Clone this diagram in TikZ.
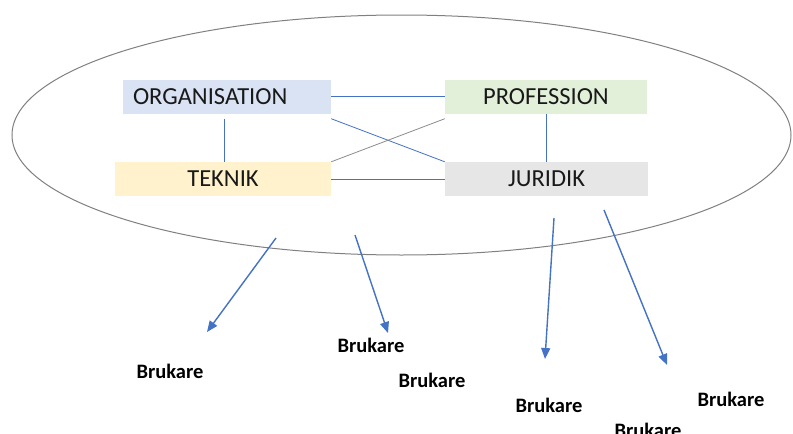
\documentclass[tikz,border=0pt]{standalone}
\usepackage{fontspec}
\setmainfont{Carlito}
\usetikzlibrary{arrows.meta}
\definecolor{lblue}{HTML}{DAE3F3}
\definecolor{lyellow}{HTML}{FFF2CC}
\definecolor{lgreen}{HTML}{E2F0D9}
\definecolor{lgray}{HTML}{E7E6E6}
\definecolor{cblue}{HTML}{4472C4}
\definecolor{cgray}{HTML}{8C8C8C}
\tikzset{
  box/.style={draw=none, minimum height=34pt, inner sep=0pt, font=\fontsize{24.5}{28}\selectfont, text=black!90},
  link/.style={draw=cblue, line width=0.8pt},
  glink/.style={draw=cgray, line width=0.8pt},
  outarrow/.style={draw=cblue, line width=1.4pt, -{Triangle[length=11pt,width=9pt]}},
  user/.style={font=\fontsize{20.5}{24}\selectfont\bfseries, inner sep=0pt}
}
\begin{document}
\begin{tikzpicture}[x=1pt,y=-1pt]
\useasboundingbox (0,0) rectangle (793,434);
\fill[white] (0,0) rectangle (793,434);
% ellipse
\draw[draw=gray, line width=1pt] (401.5,135) ellipse [x radius=389.5, y radius=120];
% boxes
\node[box, fill=lblue, minimum width=208pt, text width=188pt, align=left, inner xsep=10pt] (org) at (227,96.5) {ORGANISATION};
\node[box, fill=lyellow, minimum width=216pt] (tek) at (223,179) {TEKNIK};
\node[box, fill=lgreen, minimum width=202pt] (prof) at (546,96.5) {PROFESSION};
\node[box, fill=lgray, minimum width=203pt] (jur) at (546.5,179) {JURIDIK};
% connectors
\draw[link] (org.east) -- (prof.west);
\draw[link] (tek.east) -- (jur.west);
\draw[link] ([xshift=-3pt,yshift=-5pt]org.south) -- ([xshift=-3pt]org.south |- tek.north);
\draw[link] (prof.south) -- (prof.south |- jur.north);
\draw[link] ([yshift=-5pt]org.south east) -- (jur.north west);
\draw[glink] (tek.north east) -- ([yshift=-5pt]prof.south west);
% users
\node[user] (b1) at (170,371) {Brukare};
\node[user] (b2) at (371,345) {Brukare};
\node[user] (b3) at (432,380) {Brukare};
\node[user] (b4) at (549,405) {Brukare};
\node[user] (b5) at (731,399) {Brukare};
\node[user] (b6) at (648,430) {Brukare};
% arrows
\coordinate (s1) at (276,238); \coordinate (e1) at (207,332);
\coordinate (s2) at (355,235); \coordinate (e2) at (388,333);
\coordinate (s3) at (554,218); \coordinate (e3) at (545,359);
\coordinate (s4) at (604,210); \coordinate (e4) at (667,365);
\draw[outarrow] (s1) -- (e1);
\draw[outarrow] (s2) -- (e2);
\draw[outarrow] (s3) -- (e3);
\draw[outarrow] (s4) -- (e4);
\end{tikzpicture}
\end{document}
